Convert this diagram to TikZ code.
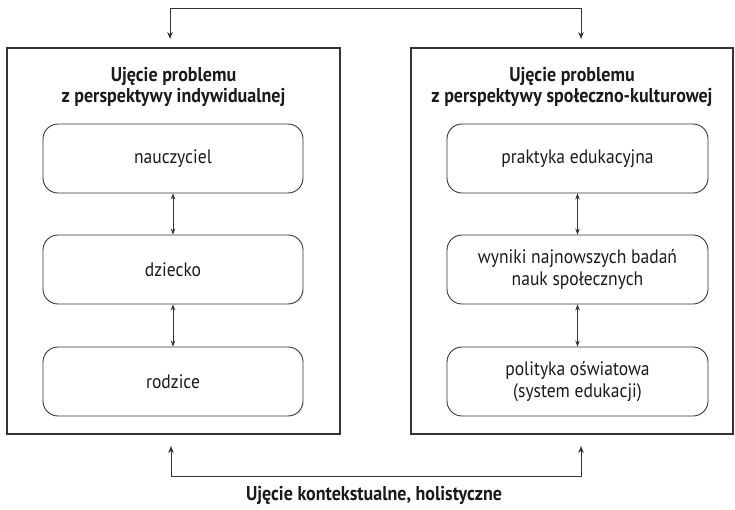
\documentclass[tikz,border=0pt]{standalone}
\usepackage{fontspec}
\setmainfont{PT Sans}[FakeStretch=0.9]
\usetikzlibrary{arrows.meta}
\definecolor{lc}{HTML}{333333}
\definecolor{tc}{HTML}{1A1A1A}
\tikzset{
  outerbox/.style={draw=lc,line width=1.4pt,rectangle,inner sep=0pt},
  innerbox/.style={draw=lc,line width=0.9pt,rectangle,rounded corners=15pt,
    minimum height=69pt,align=center,text=tc,font=\fontsize{19.5}{22}\selectfont,inner sep=0pt},
  titletext/.style={align=center,text=tc,font=\fontsize{20}{21.5}\selectfont\bfseries},
  link/.style={draw=lc,line width=0.8pt,{Stealth[length=6pt,width=4.5pt]}-{Stealth[length=6pt,width=4.5pt]}},
  conn/.style={draw=lc,line width=1pt,{Stealth[length=7pt,width=5.5pt]}-{Stealth[length=7pt,width=5.5pt]}}
}
\begin{document}
\begin{tikzpicture}[x=1pt,y=-1pt]
\useasboundingbox (0,0) rectangle (735,509);
% outer boxes
\node[outerbox,minimum width=333pt,minimum height=386pt] (L) at (173.5,241) {};
\node[outerbox,minimum width=322pt,minimum height=386pt] (R) at (572,241) {};
% titles
\node[titletext] (Lt) at (173.5,87) {Ujęcie problemu\\z perspektywy indywidualnej};
\node[titletext] (Rt) at (572,87) {Ujęcie problemu\\z perspektywy społeczno-kulturowej};
% inner left
\node[innerbox,minimum width=260pt] (L1) at (173,158.5) {nauczyciel};
\node[innerbox,minimum width=260pt] (L2) at (173,269.5) {dziecko};
\node[innerbox,minimum width=260pt] (L3) at (173,381.5) {rodzice};
% inner right
\node[innerbox,minimum width=261pt] (R1) at (577.5,158.5) {praktyka edukacyjna};
\node[innerbox,minimum width=261pt] (R2) at (577.5,269.5) {wyniki najnowszych badań\\nauk społecznych};
\node[innerbox,minimum width=261pt] (R3) at (577.5,381.5) {polityka oświatowa\\(system edukacji)};
% links
\draw[link] (L1) -- (L2);
\draw[link] (L2) -- (L3);
\draw[link] (R1) -- (R2);
\draw[link] (R2) -- (R3);
% top connector
\coordinate (tL) at (170,39);
\coordinate (tR) at (581,39);
\coordinate (tY) at (0,8);
\draw[conn] (tL) -- (tL |- tY) -| (tR);
% bottom connector
\coordinate (bL) at (171,446);
\coordinate (bR) at (581,446);
\coordinate (bY) at (0,476);
\draw[conn] (bL) -- (bL |- bY) -| (bR);
\node[titletext] (B) at (374,495) {Ujęcie kontekstualne, holistyczne};
\end{tikzpicture}
\end{document}
